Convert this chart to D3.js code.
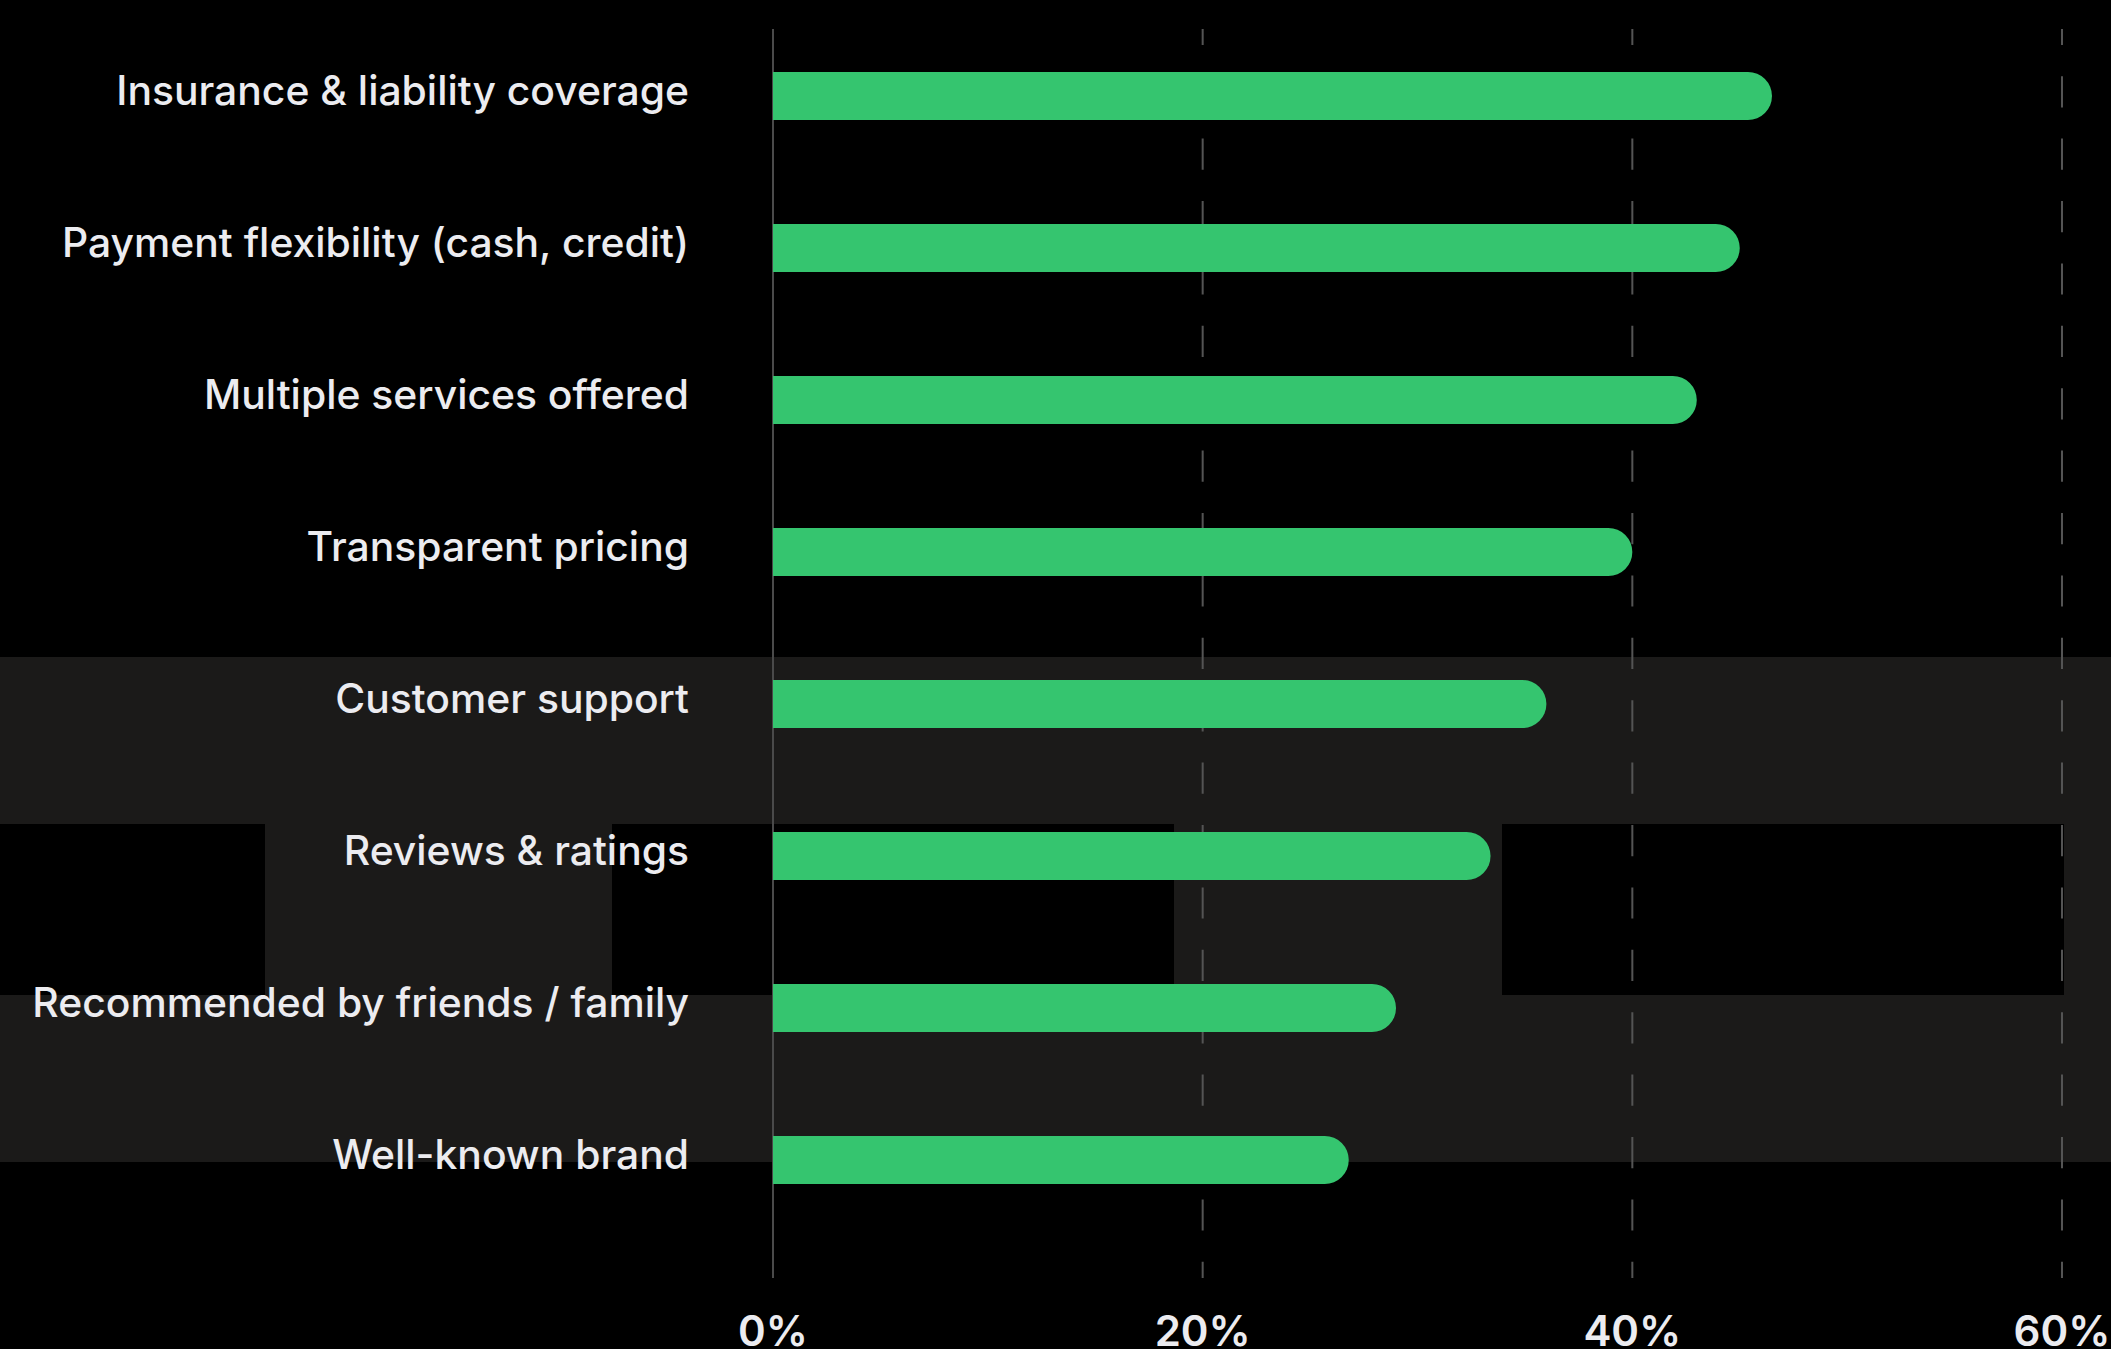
<!DOCTYPE html>
<html>
<head>
<meta charset="utf-8">
<script src="https://cdn.jsdelivr.net/npm/d3@7"></script>
<style>
  html, body { margin: 0; padding: 0; background: #000; }
  svg { display: block; }
</style>
</head>
<body>
<svg id="chart" width="2111" height="1349"></svg>
<script>
const categories = [
  "Insurance & liability coverage",
  "Payment flexibility (cash, credit)",
  "Multiple services offered",
  "Transparent pricing",
  "Customer support",
  "Reviews & ratings",
  "Recommended by friends / family",
  "Well-known brand"
];
const values = [46.5, 45.0, 43.0, 40.0, 36.0, 33.4, 29.0, 26.8];
const tickValues = [0, 20, 40, 60];
const tickLabels = ["0%", "20%", "40%", "60%"];

const W = 2111, H = 1349;
const svg = d3.select("#chart");

// background panels
svg.append("rect").attr("x", 0).attr("y", 0).attr("width", W).attr("height", H).attr("fill", "#000");
svg.append("rect").attr("x", 0).attr("y", 657).attr("width", W).attr("height", 505).attr("fill", "#1b1a19");
[[0, 265], [612, 1174], [1502, 2064]].forEach(([a, b]) => {
  svg.append("rect").attr("x", a).attr("y", 824).attr("width", b - a).attr("height", 171).attr("fill", "#000");
});

const x = d3.scaleLinear().domain([0, 60]).range([773, 2062]);
const y = d3.scaleBand().domain(categories).range([20, 20 + 152 * categories.length]).padding(0);
const barH = 48;
const gridTop = 29, gridBottom = 1278;

// grid lines
const grid = svg.append("g");
grid.selectAll("line")
  .data(tickValues)
  .join("line")
  .attr("x1", d => x(d)).attr("x2", d => x(d))
  .attr("y1", gridTop).attr("y2", gridBottom)
  .attr("stroke", d => d === 0 ? "#4a4a4a" : "#545454")
  .attr("stroke-width", 2)
  .attr("stroke-dasharray", d => d === 0 ? null : "31.2 31.2")
  .attr("stroke-dashoffset", d => d === 0 ? null : 15.2);

// bars with rounded right end
const r = barH / 2;
function barPath(v, cy) {
  const x0 = x(0), x1 = x(v), t = cy - r, b = cy + r;
  return `M${x0},${t}H${x1 - r}A${r},${r} 0 0 1 ${x1},${cy}A${r},${r} 0 0 1 ${x1 - r},${b}H${x0}Z`;
}
const data = categories.map((c, i) => ({ c, v: values[i] }));
svg.append("g").selectAll("path")
  .data(data)
  .join("path")
  .attr("d", d => barPath(d.v, y(d.c) + y.bandwidth() / 2))
  .attr("fill", "#35c56f");

// category labels
const fontFam = "Inter, 'Open Sans', sans-serif";
const labels = svg.append("g").selectAll("text")
  .data(data)
  .join("text")
  .attr("x", 689)
  .attr("y", d => y(d.c) + y.bandwidth() / 2 + 9)
  .attr("text-anchor", "end")
  .attr("fill", "#ececf0")
  .attr("font-family", fontFam)
  .attr("font-weight", 500)
  .attr("font-size", 37)
  .text(d => d.c);
// fit label size to reference width of the first label
const n0 = labels.nodes()[0];
const len0 = n0.getComputedTextLength();
const fs = 37 * 573 / len0;
labels.attr("font-size", fs);

// x axis tick labels
const ticks = svg.append("g").selectAll("text")
  .data(tickValues)
  .join("text")
  .attr("x", d => x(d))
  .attr("y", 1346)
  .attr("text-anchor", "middle")
  .attr("fill", "#ececf0")
  .attr("font-family", fontFam)
  .attr("font-weight", 600)
  .attr("font-size", 42)
  .text((d, i) => tickLabels[i]);
</script>
</body>
</html>
